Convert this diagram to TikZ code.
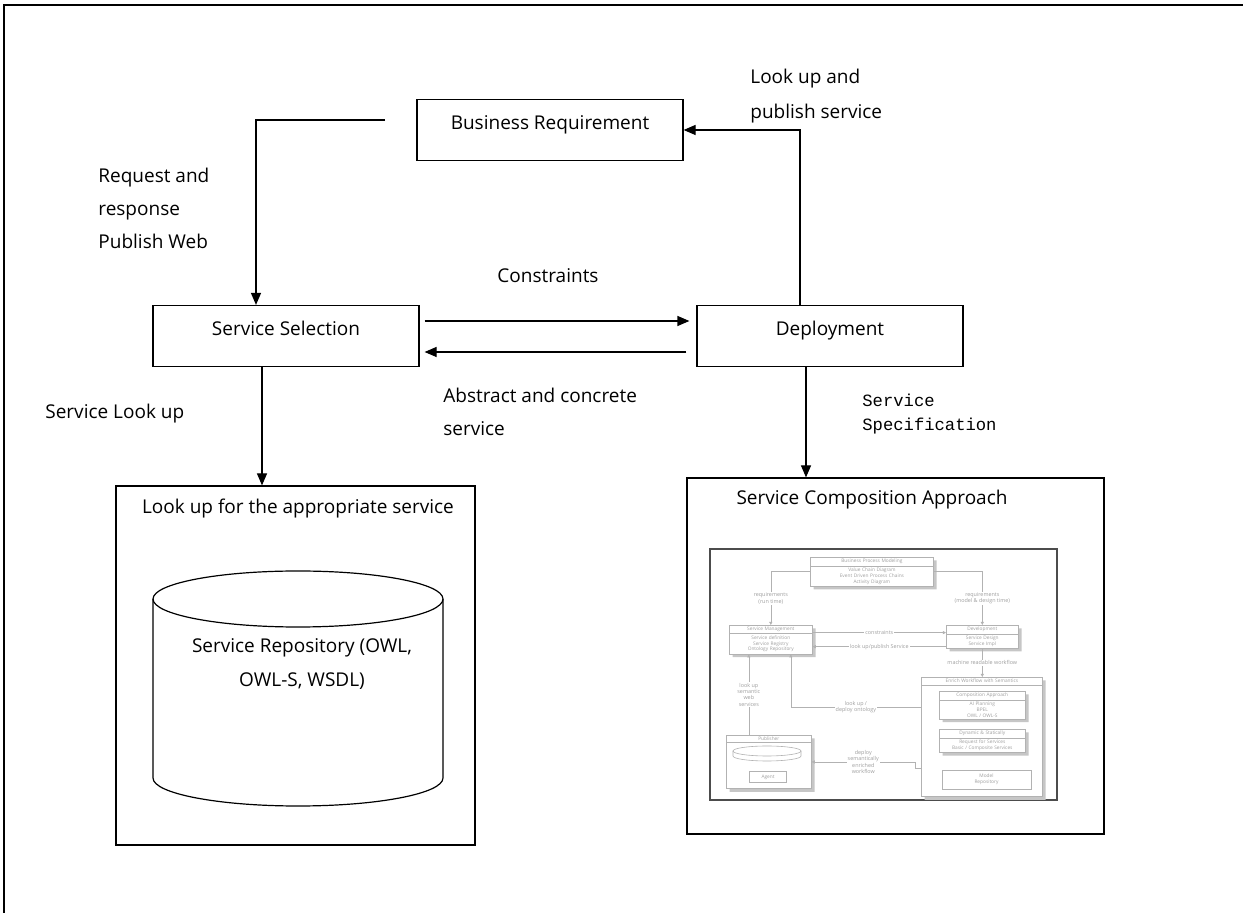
\documentclass[tikz,border=0pt]{standalone}
\usepackage{fontspec}
\setmainfont{Open Sans}
\newfontfamily\specfont{Liberation Mono}
\usetikzlibrary{shapes,arrows,positioning,calc,shadows,arrows.meta}

\begin{document}
\begin{tikzpicture}[x=0.5pt, y=-0.5pt,
    box/.style={draw, line width=0.6pt, minimum width=133pt, minimum height=30.5pt, text height=7pt, text depth=7pt, font=\fontsize{9.5}{12}\selectfont},
    lbl/.style={anchor=west, align=left, inner sep=0pt, font=\fontsize{9.5}{16.5}\selectfont},
    flow/.style={line width=0.6pt, -{Triangle[length=6pt,width=5pt]}},
    minibox/.style={rectangle split, rectangle split parts=2, draw=gray!60, fill=white, line width=0.3pt, font=\fontsize{2.4}{2.9}\selectfont, text=gray!75, align=center, inner sep=0.8pt, anchor=north west, drop shadow={shadow xshift=1.6pt, shadow yshift=-1.6pt, fill=gray!45, opacity=1}},
    miniflow/.style={draw=gray!60, line width=0.3pt, -{Triangle[length=1.6pt,width=1.6pt]}},
    minilbl/.style={font=\fontsize{2.7}{3.2}\selectfont, text=gray!75, align=center, inner sep=0.5pt, fill=white}
]
\useasboundingbox (0,0) rectangle (1243,913);
\draw[line width=1pt] (1243,5) -- (4,5) -- (4,913);

% main boxes
\node[box] (busreq) at (550,130) {Business Requirement};
\node[box] (servsel) at (286,336) {Service Selection};
\node[box] (deploy) at (830,336) {Deployment};
\node[draw, line width=0.6pt, minimum width=179.5pt, minimum height=179.5pt] (lookup) at (295.5,665.5) {};
\node[draw, line width=0.6pt, minimum width=208.5pt, minimum height=178pt] (compbox) at (895.5,656) {};
\node[font=\fontsize{9.5}{12}\selectfont] (lookuptitle) at (298,509) {Look up for the appropriate service};
\node[font=\fontsize{9.5}{12}\selectfont] (comptitle) at (872,500) {Service Composition Approach};

% repository
\draw[line width=0.6pt] (298,599) ellipse [x radius=145, y radius=28];
\draw[line width=0.6pt] (153,599) -- (153,778) arc[start angle=180, end angle=0, x radius=145, y radius=28] -- (443,599);
\node[align=center, font=\fontsize{9.5}{17}\selectfont] (repo) at (302,664) {Service Repository (OWL,\\OWL-S, WSDL)};

% connectors
\coordinate (brfree) at (385,120);
\draw[flow] (brfree) -| ([xshift=-15pt]servsel.north);
\draw[flow] ([xshift=-15pt]deploy.north) |- (busreq.east);
\draw[flow] ([xshift=2.5pt,yshift=7.5pt]servsel.east) -- ([xshift=-3.5pt,yshift=7.5pt]deploy.west);
\draw[flow] ([xshift=-5pt,yshift=-8pt]deploy.west) -- ([xshift=2.5pt,yshift=-8pt]servsel.east);
\draw[flow] ([xshift=-12pt]servsel.south) -- ([xshift=-12pt]servsel.south |- lookup.north);
\draw[flow] ([xshift=-12pt]deploy.south) -- ([xshift=-12pt]deploy.south |- compbox.north);

% labels
\node[lbl, font=\fontsize{9.5}{17.5}\selectfont] (lookpub) at (750,96) {Look up and\\publish service};
\node[lbl] (reqresp) at (98,208) {Request and\\response\\Publish Web};
\node[font=\fontsize{9.5}{12}\selectfont] (constr) at (548,276) {Constraints};
\node[lbl] (abstract) at (443,412) {Abstract and concrete\\service};
\node[lbl] (servlook) at (45,414) {Service Look up};
\node[lbl, font=\specfont\fontsize{8.6}{12}\selectfont] (servspec) at (862,414) {Service\\Specification};

% composition approach figure
\draw[line width=1.3pt, draw=gray!60!black] (710,549) rectangle (1057,800);
\node[minibox, text width=60pt] (bpm) at (810,557) {Business Process Modeling \nodepart{second} Value Chain Diagram\\Event Driven Process Chains\\Activity Diagram};
\node[minibox, text width=39.9pt] (sm) at (729,625) {Service Management \nodepart{second} Service definition\\Service Registry\\Ontology Repository};
\node[minibox, text width=34.4pt, minimum height=15pt] (dev) at (946,625) {Development \nodepart{second} Service Design\\Service Impl};
\node[minibox, text width=59pt] (enrich) at (921,677) {Enrich Workflow with Semantics \nodepart{second} \rule{0pt}{54pt}};
\node[minibox, text width=41.4pt, minimum height=16pt] (compapp) at (939,691) {Composition Approach \nodepart{second} AI Planning\\BPEL\\OWL / OWL-S};
\node[minibox, text width=41.4pt, minimum height=16.5pt] (dynstat) at (939,729) {Dynamic \& Statically \nodepart{second} Request for Services\\Basic / Composite Services};
\node[draw=gray!60, line width=0.3pt, fill=white, font=\fontsize{2.4}{2.9}\selectfont, text=gray!75, align=center, minimum width=44.5pt, minimum height=9.5pt, inner sep=0.5pt] (modrepo) at (986.5,779.5) {Model\\Repository};
\node[minibox, text width=40.9pt] (pub) at (726,735) {Publisher \nodepart{second} \rule{0pt}{21pt}};
\draw[draw=gray!60, line width=0.3pt] (767,751) ellipse [x radius=34, y radius=5];
\draw[draw=gray!60, line width=0.3pt] (733,751) -- (733,756) arc[start angle=180, end angle=0, x radius=34, y radius=5] -- (801,751);
\node[draw=gray!60, line width=0.3pt, font=\fontsize{2.4}{2.9}\selectfont, text=gray!75, minimum width=18.5pt, minimum height=5.5pt, inner sep=0.5pt] (agent) at (768,777) {Agent};

\draw[miniflow] (bpm.west) -| (sm.north) node[pos=0.75, minilbl] {requirements\\(run time)};
\draw[miniflow] (bpm.east) -| (dev.north) node[pos=0.75, minilbl] {requirements\\(model \& design time)};
\draw[miniflow] ([yshift=3.5pt]sm.east) -- ([yshift=3.5pt]sm.east -| dev.west) node[midway, minilbl] {constraints};
\draw[miniflow] ([yshift=-3.5pt]sm.east -| dev.west) -- ([yshift=-3.5pt]sm.east) node[midway, minilbl] {look up/publish Service};
\draw[miniflow] (dev.south) -- (dev.south |- enrich.north) node[midway, minilbl] {machine readable workflow};
\draw[miniflow] ([xshift=-10pt]pub.north) -- ([xshift=-10pt]pub.north |- sm.south) node[midway, minilbl] {look up\\semantic\\web\\services};
\draw[miniflow] ([yshift=15pt]enrich.west) -| ([xshift=10pt]sm.south) node[pos=0.25, minilbl] {look up /\\deploy ontology};
\draw[miniflow] ([yshift=-15.5pt]enrich.west) -- ++(-6,0) |- (pub.east) node[pos=0.75, minilbl] {deploy\\semantically\\enriched\\workflow};
\end{tikzpicture}
\end{document}
